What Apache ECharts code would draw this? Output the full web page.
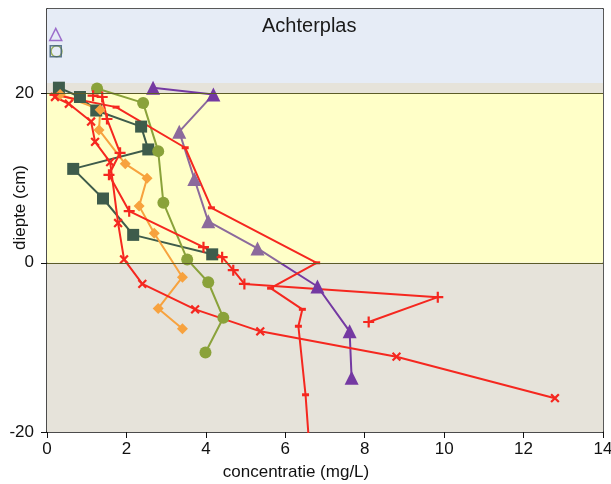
<!DOCTYPE html>
<html>
<head>
<meta charset="utf-8">
<script src="https://cdn.jsdelivr.net/npm/echarts@6/dist/echarts.min.js"></script>
<style>
  html, body { margin: 0; padding: 0; background: #ffffff; }
  #chart { width: 611px; height: 484px; }
</style>
</head>
<body>
<div id="chart"></div>
<script>
// Porewater profiles, Achterplas: concentration (mg/L) against depth (cm)
const xTicks = [0, 2, 4, 6, 8, 10, 12, 14];
const yTicks = [-20, 0, 20];

// zone limits (cm)
const waterTop = 30;
const waterBottom = 21.25;
const sedimentTop = 20;
const interfaceDepth = 0;
const profileBottom = -20;

// square profile
const sqConc  = [0.30, 0.83, 1.24, 2.37, 2.55, 0.66, 1.41, 2.17, 4.16];
const sqDepth = [20.7, 19.6, 18.0, 16.1, 13.4, 11.1, 7.6, 3.3, 1.0];

// circle profile
const circConc  = [1.26, 2.42, 2.80, 2.93, 3.53, 4.06, 4.44, 3.99];
const circDepth = [20.6, 18.9, 13.2, 7.1, 0.4, -2.3, -6.5, -10.6];

// triangle profile
const triConc  = [2.67, 4.19, 3.33, 3.71, 4.06, 5.30, 6.81, 7.62, 7.67];
const triDepth = [20.7, 19.9, 15.5, 9.9, 4.9, 1.7, -2.8, -8.1, -13.6];

// diamond profile
const diaConc  = [0.33, 1.34, 1.31, 1.97, 2.52, 2.32, 2.70, 3.41, 2.80, 3.41];
const diaDepth = [19.9, 18.1, 15.7, 11.7, 10.0, 6.7, 3.5, -1.7, -5.4, -7.8];

// plus profile
const plusConc  = [1.16, 1.39, 1.51, 1.84, 1.56, 2.07, 3.94, 4.41, 4.69, 4.97, 9.84, 8.10];
const plusDepth = [19.75, 19.6, 17.0, 13.0, 10.4, 6.1, 1.85, 0.67, -0.87, -2.5, -4.06, -7.0];

// cross profile
const crossConc  = [0.20, 0.55, 1.11, 1.21, 1.59, 1.79, 1.94, 2.40, 3.73, 5.37, 8.80, 12.79];
const crossDepth = [19.6, 18.8, 16.7, 14.3, 11.9, 4.7, 0.4, -2.5, -5.5, -8.1, -11.1, -16.0];

// dash profile
const dashConc  = [0.15, 1.74, 3.48, 4.14, 6.79, 5.63, 6.43, 6.33, 6.51, 6.64];
const dashDepth = [19.9, 18.4, 13.6, 6.5, 0.0, -3.0, -5.5, -7.5, -15.6, -24.0];

// surface water samples
const swTriConc = [0.22],  swTriDepth = [27.0];
const swSqConc = [0.22],   swSqDepth = [25.0];
const swCircConc = [0.24], swCircDepth = [25.0];

const pts = (xs, ys) => xs.map((x, i) => [x, ys[i]]);

const PLUS = 'path://M4,0H6V4H10V6H6V10H4V6H0V4H4Z';
const FONT = 'Liberation Sans, Arial, sans-serif';

const colSq = '#3e5c4b';
const colCirc = '#8aa23a';
const colTriDark = '#7439a2';
const colTriMuted = '#8c6a9c';
const colDia = '#f7a23e';
const colRed = '#f5271f';

function profile(name, xs, ys, color, symbol, size, extra) {
  return Object.assign({
    name: name,
    type: 'line',
    data: pts(xs, ys),
    symbol: symbol,
    symbolSize: size,
    showSymbol: true,
    clip: true,
    lineStyle: { color: color, width: 2 },
    itemStyle: { color: color, borderWidth: 0 },
    emphasis: { disabled: true },
    animation: false,
    z: 3
  }, extra || {});
}

const chart = echarts.init(document.getElementById('chart'), null, { renderer: 'canvas' });

chart.setOption({
  backgroundColor: '#ffffff',
  animation: false,
  title: {
    text: 'Achterplas',
    left: 262, top: 16, padding: 0,
    textStyle: { fontFamily: FONT, fontSize: 20, fontWeight: 'normal', color: '#1a1a1a' }
  },
  grid: { left: 47, right: 8, top: 9, bottom: 52, containLabel: false, outerBoundsMode: 'none' },
  xAxis: [{
    type: 'value', min: 0, max: 14, interval: 2,
    name: 'concentratie (mg/L)', nameLocation: 'middle', nameGap: 32, nameMoveOverlap: false,
    nameTextStyle: { fontFamily: FONT, fontSize: 17, color: '#111', padding: [0, 58, 0, 0] },
    axisLine: { show: true, onZero: false, lineStyle: { color: '#111', width: 1.5 } },
    axisTick: { show: true, inside: false, length: 6, lineStyle: { color: '#111' } },
    axisLabel: { fontFamily: FONT, fontSize: 17, color: '#111', margin: 9,
                 formatter: v => xTicks.includes(v) ? String(v) : '' },
    splitLine: { show: false }
  }, {
    type: 'value', min: 0, max: 14, position: 'top',
    axisLine: { show: true, onZero: false, lineStyle: { color: '#222', width: 1.5 } },
    axisTick: { show: false }, axisLabel: { show: false }, splitLine: { show: false }
  }],
  yAxis: [{
    type: 'value', min: profileBottom, max: waterTop, interval: 20,
    name: 'diepte (cm)', nameLocation: 'middle', nameGap: 18, nameMoveOverlap: false,
    nameTextStyle: { fontFamily: FONT, fontSize: 17, color: '#111', padding: [0, 0, 0, 26] },
    axisLine: { show: true, onZero: false, lineStyle: { color: '#111', width: 1.5 } },
    axisTick: { show: true, length: 6, lineStyle: { color: '#111' } },
    axisLabel: { fontFamily: FONT, fontSize: 17, color: '#111', margin: 13,
                 showMaxLabel: false,
                 formatter: v => yTicks.includes(v) ? String(v) : '' },
    splitLine: { show: false }
  }, {
    type: 'value', min: profileBottom, max: waterTop, position: 'right',
    axisLine: { show: true, onZero: false, lineStyle: { color: '#222', width: 1.5 } },
    axisTick: { show: false }, axisLabel: { show: false }, splitLine: { show: false }
  }],
  visualMap: [{
    type: 'piecewise', show: false, seriesIndex: 3, dimension: 1,
    pieces: [
      { gte: interfaceDepth, lt: 19.5, color: colTriMuted },
      { lt: interfaceDepth, color: colTriDark },
      { gte: 19.5, color: colTriDark }
    ]
  }],
  series: [
    {
      // depth zones
      type: 'line', data: [], silent: true, z: 1, animation: false,
      markArea: {
        silent: true,
        data: [
          [{ coord: [0, waterBottom], itemStyle: { color: '#e6ecf6' } }, { coord: [14, waterTop] }],
          [{ coord: [0, sedimentTop], itemStyle: { color: '#e6e3da' } }, { coord: [14, waterBottom] }],
          [{ coord: [0, interfaceDepth], itemStyle: { color: '#ffffc8' } }, { coord: [14, sedimentTop] }],
          [{ coord: [0, profileBottom], itemStyle: { color: '#e6e3da' } }, { coord: [14, interfaceDepth] }]
        ]
      },
      markLine: {
        silent: true, symbol: 'none', label: { show: false },
        lineStyle: { color: '#5c5c28', width: 1.2, type: 'solid' },
        data: [{ yAxis: sedimentTop }, { yAxis: interfaceDepth }]
      }
    },
    profile('sq', sqConc, sqDepth, colSq, 'rect', 12),
    profile('circ', circConc, circDepth, colCirc, 'circle', 12),
    profile('tri', triConc, triDepth, colTriDark, 'triangle', 14, { lineStyle: { width: 2 } }),
    profile('dia', diaConc, diaDepth, colDia, 'diamond', 11),
    profile('plus', plusConc, plusDepth, colRed, PLUS, 11),
    profile('cross', crossConc, crossDepth, colRed, PLUS, 11, { symbolRotate: 45 }),
    profile('dash', dashConc, dashDepth, colRed, 'rect', [7, 3]),
    {
      type: 'scatter', data: pts(swTriConc, swTriDepth), symbol: 'triangle', symbolSize: 12, z: 4,
      itemStyle: { color: 'transparent', borderColor: '#8a4fc0', borderWidth: 1.5 }, animation: false
    },
    {
      type: 'scatter', data: pts(swCircConc, swCircDepth), symbol: 'circle', symbolSize: 11, z: 4,
      itemStyle: { color: 'transparent', borderColor: '#8aa23a', borderWidth: 1.5 }, animation: false
    },
    {
      type: 'scatter', data: pts(swSqConc, swSqDepth), symbol: 'rect', symbolSize: 11, z: 4,
      itemStyle: { color: 'transparent', borderColor: '#3b5a78', borderWidth: 1.5 }, animation: false
    }
  ]
});
</script>
</body>
</html>
